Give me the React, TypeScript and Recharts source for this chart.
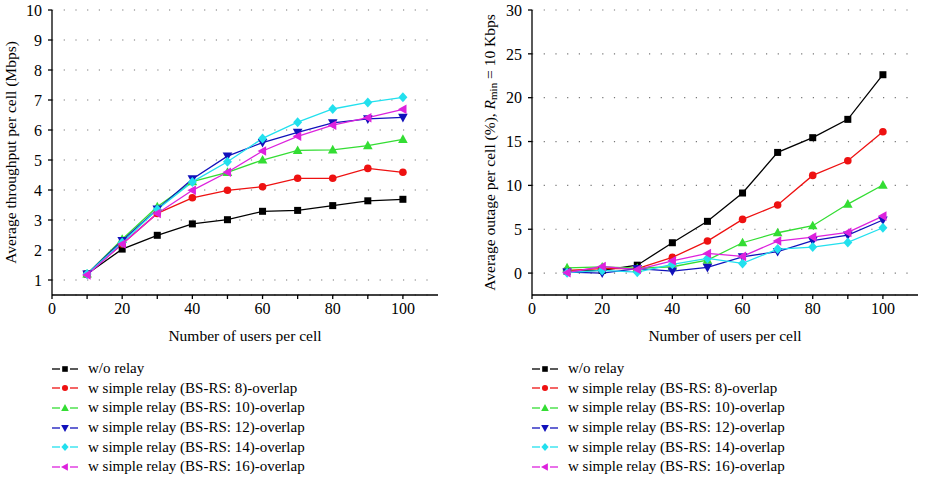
import React from 'react';
import { LineChart, Line, XAxis, YAxis, CartesianGrid } from 'recharts';

const users = [10, 20, 30, 40, 50, 60, 70, 80, 90, 100];

// left panel: average throughput per cell (Mbps)
const thrWoRelay = [1.2, 2.03, 2.49, 2.87, 3.01, 3.29, 3.32, 3.48, 3.64, 3.69];
const thrBs8 = [1.2, 2.2, 3.22, 3.74, 3.99, 4.11, 4.39, 4.39, 4.72, 4.59];
const thrBs10 = [1.2, 2.36, 3.44, 4.28, 4.59, 5.0, 5.32, 5.34, 5.48, 5.69];
const thrBs12 = [1.2, 2.31, 3.36, 4.37, 5.13, 5.58, 5.92, 6.24, 6.37, 6.42];
const thrBs14 = [1.2, 2.25, 3.35, 4.27, 4.94, 5.72, 6.26, 6.7, 6.92, 7.09];
const thrBs16 = [1.17, 2.2, 3.22, 3.99, 4.59, 5.3, 5.79, 6.16, 6.41, 6.69];

// right panel: average outage per cell (%)
const outWoRelay = [0.2, 0.3, 0.9, 3.46, 5.9, 9.13, 13.76, 15.44, 17.53, 22.62];
const outBs8 = [0.3, 0.5, 0.5, 1.79, 3.65, 6.12, 7.76, 11.14, 12.81, 16.12];
const outBs10 = [0.6, 0.7, 0.55, 0.72, 1.48, 3.46, 4.6, 5.4, 7.87, 10.04];
const outBs12 = [0.1, 0.0, 0.5, 0.23, 0.65, 1.86, 2.45, 3.69, 4.33, 6.05];
const outBs14 = [0.05, 0.3, 0.1, 1.0, 1.67, 1.1, 2.74, 2.97, 3.5, 5.17];
const outBs16 = [0.05, 0.75, 0.4, 1.4, 2.24, 1.9, 3.65, 4.1, 4.64, 6.5];

const seriesNames = [
  'w/o relay',
  'w simple relay (BS-RS: 8)-overlap',
  'w simple relay (BS-RS: 10)-overlap',
  'w simple relay (BS-RS: 12)-overlap',
  'w simple relay (BS-RS: 14)-overlap',
  'w simple relay (BS-RS: 16)-overlap',
];
const seriesKeys = ['wo', 'bs8', 'bs10', 'bs12', 'bs14', 'bs16'];
const COLORS = ['#000000', '#ee1111', '#33dd33', '#1111bb', '#22e0ee', '#dd22dd'];
const SHAPES = ['square', 'circle', 'up', 'down', 'diamond', 'left'];

const xTicks = [0, 10, 20, 30, 40, 50, 60, 70, 80, 90, 100];
const thrTicks = [1, 2, 3, 4, 5, 6, 7, 8, 9, 10];
const thrMinorTicks = [0.5, 1.5, 2.5, 3.5, 4.5, 5.5, 6.5, 7.5, 8.5, 9.5];
const outTicks = [0, 5, 10, 15, 20, 25, 30];
const outMinorTicks = [-2.5, 2.5, 7.5, 12.5, 17.5, 22.5, 27.5];

const FONT = '"Liberation Serif", "DejaVu Serif", serif';

const buildRows = (cols: number[][]) =>
  users.map((u, i) => {
    const row: any = { users: u };
    seriesKeys.forEach((k, j) => (row[k] = cols[j][i]));
    return row;
  });

const thrData = buildRows([thrWoRelay, thrBs8, thrBs10, thrBs12, thrBs14, thrBs16]);
const outData = buildRows([outWoRelay, outBs8, outBs10, outBs12, outBs14, outBs16]);

const Marker = ({ cx, cy, shape, color, s = 1 }: any) => {
  if (cx == null || cy == null) return null;
  switch (shape) {
    case 'square':
      return <rect x={cx - 3.5 * s} y={cy - 3.5 * s} width={7 * s} height={7 * s} fill={color} />;
    case 'circle':
      return <circle cx={cx} cy={cy} r={3.8 * s} fill={color} />;
    case 'up':
      return <polygon points={`${cx},${cy - 5 * s} ${cx + 4.8 * s},${cy + 3.6 * s} ${cx - 4.8 * s},${cy + 3.6 * s}`} fill={color} />;
    case 'down':
      return <polygon points={`${cx},${cy + 5 * s} ${cx + 4.8 * s},${cy - 3.6 * s} ${cx - 4.8 * s},${cy - 3.6 * s}`} fill={color} />;
    case 'diamond':
      return <polygon points={`${cx},${cy - 5 * s} ${cx + 4.5 * s},${cy} ${cx},${cy + 5 * s} ${cx - 4.5 * s},${cy}`} fill={color} />;
    default:
      return <polygon points={`${cx - 5 * s},${cy} ${cx + 3.6 * s},${cy - 4.8 * s} ${cx + 3.6 * s},${cy + 4.8 * s}`} fill={color} />;
  }
};

const tickStyle = { fill: '#000', fontSize: 16, fontFamily: FONT };
const xFmt = (v: number) => (v % 20 === 0 ? String(v) : '');

const ThrYLabel = ({ viewBox }: any) => {
  const x = viewBox.x + 10;
  const y = viewBox.y + viewBox.height / 2;
  return (
    <text x={x} y={y} transform={`rotate(-90, ${x}, ${y})`} textAnchor="middle" dominantBaseline="central"
      fill="#000" fontSize={15.5} fontFamily={FONT}>
      Average throughput per cell (Mbps)
    </text>
  );
};

const OutYLabel = ({ viewBox }: any) => {
  const x = viewBox.x + 26;
  const y = viewBox.y + viewBox.height / 2;
  return (
    <text x={x} y={y} transform={`rotate(-90, ${x}, ${y})`} textAnchor="middle" dominantBaseline="central"
      fill="#000" fontSize={15.5} fontFamily={FONT}>
      Average outage per cell (%),{' '}
      <tspan fontStyle="italic">R</tspan>
      <tspan fontSize={11} dy={4}>min</tspan>
      <tspan dy={-4}> = 10 Kbps</tspan>
    </text>
  );
};

const Panel = ({ data, yDomain, yTicks, yMinor, yWidth, rightMargin, YLabel }: any) => (
  <LineChart width={463} height={355} data={data} margin={{ top: 10, right: rightMargin, bottom: 10, left: 0 }}>
    <CartesianGrid vertical={false} stroke="#777" strokeWidth={1.2} strokeDasharray="1.2 10.5" />
    <XAxis dataKey="users" type="number" domain={[0, 110]} ticks={xTicks} interval={0} tickFormatter={xFmt}
      tick={tickStyle} tickSize={4} tickMargin={4} height={50} stroke="#000" strokeWidth={1.3}
      label={{ value: 'Number of users per cell', position: 'insideBottom', offset: 4, fill: '#000', fontSize: 15.5, fontFamily: FONT }} />
    <XAxis xAxisId="top" orientation="top" type="number" domain={[0, 110]} height={0} tick={false} tickLine={false}
      stroke="#000" strokeWidth={1.3} />
    <YAxis type="number" domain={yDomain} ticks={yTicks} interval={0} tick={tickStyle} tickSize={4} tickMargin={6}
      width={yWidth} stroke="#000" strokeWidth={1.3} label={<YLabel />} />
    <YAxis yAxisId="minor" type="number" domain={yDomain} ticks={yMinor} interval={0} mirror axisLine={false}
      tickSize={3} tickFormatter={() => ''} stroke="#000" />
    <YAxis yAxisId="right" orientation="right" type="number" domain={yDomain} width={0} tick={false} tickLine={false}
      stroke="#000" strokeWidth={1.3} />
    {seriesKeys.map((k, j) => (
      <Line key={k} dataKey={k} name={seriesNames[j]} stroke={COLORS[j]} strokeWidth={1.3} isAnimationActive={false}
        dot={(p: any) => <Marker key={`${k}-${p.index}`} cx={p.cx} cy={p.cy} shape={SHAPES[j]} color={COLORS[j]} />} />
    ))}
  </LineChart>
);

const LegendBox = ({ left }: { left: number }) => (
  <div style={{ position: 'absolute', left, top: 359, fontFamily: FONT, fontSize: 15, color: '#000' }}>
    {seriesNames.map((n, j) => (
      <div key={n} style={{ height: 19.6, display: 'flex', alignItems: 'center', whiteSpace: 'nowrap' }}>
        <svg width={27} height={12} style={{ marginRight: 9 }}>
          <line x1={0} y1={6} x2={8} y2={6} stroke={COLORS[j]} strokeWidth={1.3} />
          <line x1={18} y1={6} x2={26} y2={6} stroke={COLORS[j]} strokeWidth={1.3} />
          <Marker cx={13} cy={6} shape={SHAPES[j]} color={COLORS[j]} s={0.8} />
        </svg>
        <span>{n}</span>
      </div>
    ))}
  </div>
);

export default function App() {
  return (
    <div style={{ position: 'absolute', left: 0, top: 0, width: 926, height: 481, background: '#fff', fontFamily: FONT }}>
      <div style={{ position: 'absolute', left: 0, top: 0 }}>
        <Panel data={thrData} yDomain={[0.5, 10]} yTicks={thrTicks} yMinor={thrMinorTicks} yWidth={52}
          rightMargin={25} YLabel={ThrYLabel} />
      </div>
      <div style={{ position: 'absolute', left: 463, top: 0 }}>
        <Panel data={outData} yDomain={[-2.5, 30]} yTicks={outTicks} yMinor={outMinorTicks} yWidth={69}
          rightMargin={8} YLabel={OutYLabel} />
      </div>
      <LegendBox left={52} />
      <LegendBox left={532} />
    </div>
  );
}
